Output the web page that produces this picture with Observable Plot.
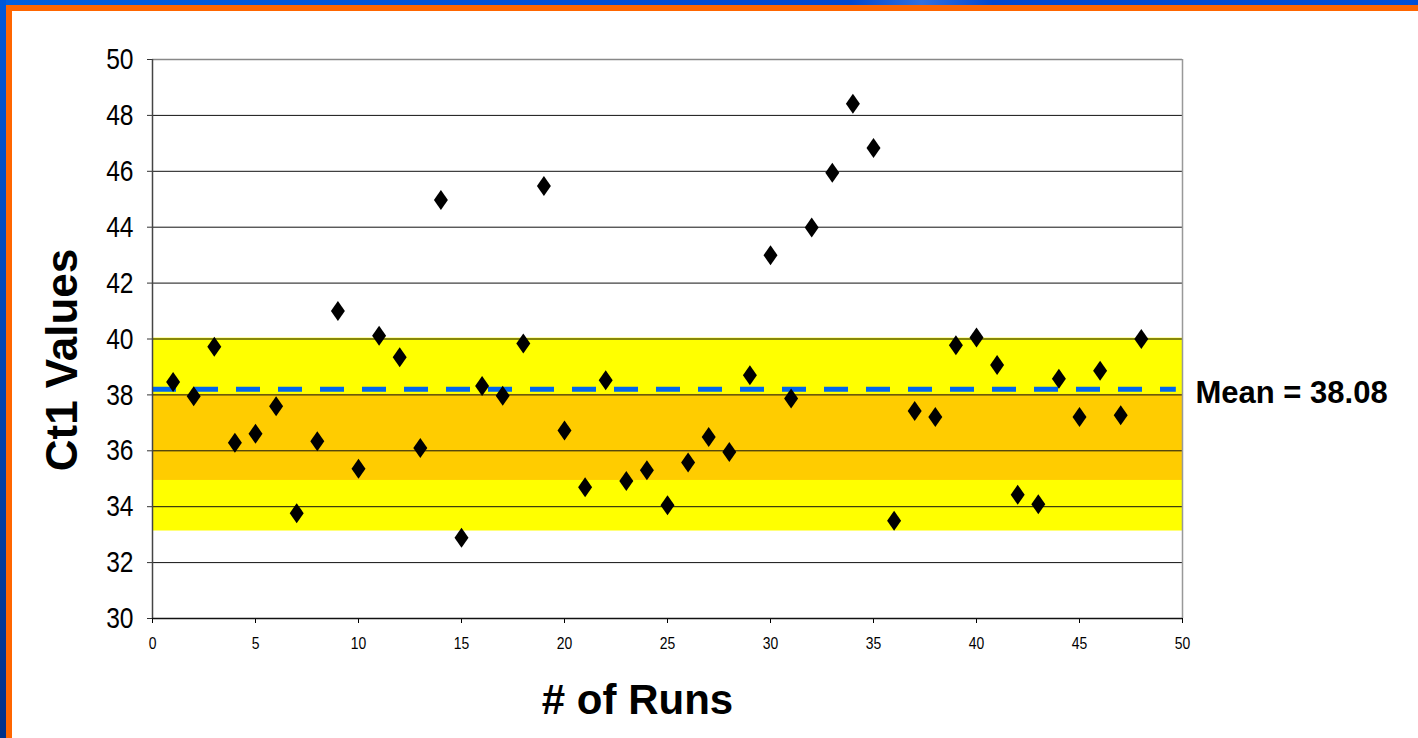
<!DOCTYPE html>
<html>
<head>
<meta charset="utf-8">
<script src="https://cdn.jsdelivr.net/npm/d3@7"></script>
<script src="https://cdn.jsdelivr.net/npm/@observablehq/plot@0.6"></script>
<style>
  html, body { margin: 0; padding: 0; background: #fff; width: 1418px; height: 738px; overflow: hidden; }
  #frame-blue-top { position: absolute; left: 0; top: 0; width: 1418px; height: 5px; background: linear-gradient(90deg, #0060e0, #0050d8 40%, #0048d0 60%, #3070e0 65%, #0048d0 70%, #0050d8); }
  #frame-blue-left { position: absolute; left: 0; top: 0; width: 6px; height: 738px; background: linear-gradient(180deg, #0058d8, #003a9a 80%, #00308a); }
  #frame-orange-top { position: absolute; left: 6px; top: 5px; width: 1412px; height: 6px; background: #ff6600; }
  #frame-orange-left { position: absolute; left: 6px; top: 5px; width: 6px; height: 733px; background: #ff6600; }
  #chart { position: absolute; left: 0; top: 0; }
</style>
</head>
<body>
<div id="chart"></div>
<div id="frame-blue-top"></div>
<div id="frame-blue-left"></div>
<div id="frame-orange-top"></div>
<div id="frame-orange-left"></div>
<script>
// ---- data ----
const runs = [1,2,3,4,5,6,7,8,9,10,11,12,13,14,15,16,17,18,19,20,21,22,23,24,25,26,27,28,29,30,31,32,33,34,35,36,37,38,39,40,41,42,43,44,45,46,47,48];
const ct1Values = [38.46,37.95,39.72,36.29,36.61,37.59,33.77,36.34,41.0,35.36,40.12,39.35,36.1,44.97,32.89,38.32,37.97,39.84,45.47,36.73,34.70,38.52,34.92,35.30,34.05,35.58,36.49,35.96,38.70,43.0,37.87,43.99,45.95,48.42,46.83,33.50,37.42,37.21,39.78,40.05,39.07,34.43,34.09,38.58,37.21,38.86,37.27,40.0];
const yTicks = [30,32,34,36,38,40,42,44,46,48,50];
const xTicks = [0,5,10,15,20,25,30,35,40,45,50];
const bandLows = [33.13, 34.94];
const bandHighs = [40.03, 38.02];
const bandNames = ["outer", "inner"];
const meanLineValue = [38.2];
const meanLabelValue = [38.08];
const meanLabelText = ["Mean = 38.08"];
const xTitle = ["# of Runs"];
const yTitle = ["Ct1 Values"];

// ---- tables built from the arrays ----
const points = runs.map((r, i) => ({run: r, ct: ct1Values[i]}));
const bands = bandNames.map((n, i) => ({name: n, lo: bandLows[i], hi: bandHighs[i]}));
const meanLabel = meanLabelText.map((t, i) => ({text: t, y: meanLabelValue[i]}));

const tallDiamond = {
  draw(context) {
    context.moveTo(0, -10);
    context.lineTo(7, 0);
    context.lineTo(0, 10);
    context.lineTo(-7, 0);
    context.closePath();
  }
};

const tickFont = "'Liberation Sans', Arial, Helvetica, sans-serif";
const bold = "Arial, 'Liberation Sans', Helvetica, sans-serif";

const chart = Plot.plot({
  width: 1418,
  height: 738,
  marginLeft: 152,
  marginRight: 236,
  marginTop: 59,
  marginBottom: 120,
  style: {fontFamily: tickFont, background: "transparent", overflow: "visible"},
  x: {domain: [0, 50], ticks: xTicks},
  y: {domain: [30, 50], ticks: yTicks},
  color: {domain: ["outer", "inner"], range: ["#ffff00", "#ffcc00"]},
  marks: [
    Plot.rectY(bands, {x1: 0, x2: 50, y1: "lo", y2: "hi", fill: "name"}),
    Plot.ruleY(yTicks.filter(d => d > 30 && d < 50), {x1: 0, x2: 50, stroke: "#111", strokeWidth: 1}),
    Plot.ruleY(yTicks.filter(d => d === 50), {x1: 0, x2: 50, stroke: "#888", strokeWidth: 1.5}),
    Plot.ruleX(xTicks.filter(d => d === 50), {y1: 30, y2: 50, stroke: "#999", strokeWidth: 1.5}),
    Plot.ruleY(meanLineValue, {x1: 0, x2: 49.7, stroke: "#0066ee", strokeWidth: 5, strokeDasharray: "24,18"}),
    Plot.axisY({ticks: yTicks, tickSize: 5, tickPadding: 14, fontSize: 30, label: null, stroke: "#333", ariaLabel: "y-axis"}),
    Plot.axisX({ticks: xTicks, tickSize: 5, tickPadding: 13, fontSize: 17, label: null, ariaLabel: "x-axis"}),
    Plot.ruleX(xTicks.filter(d => d === 0), {y1: 30, y2: 50, stroke: "#444", strokeWidth: 1.5}),
    Plot.ruleY(yTicks.filter(d => d === 30), {x1: 0, x2: 50, stroke: "#111", strokeWidth: 1.5}),
    Plot.dot(points, {x: "run", y: "ct", symbol: tallDiamond, fill: "black", stroke: "none"}),
    Plot.text(meanLabel, {x: 50, y: "y", text: "text", textAnchor: "start", dx: 13, fontSize: 31, fontWeight: "bold", fontFamily: bold, fill: "black"}),
    Plot.text(xTitle, {frameAnchor: "bottom", text: d => d, textAnchor: "middle", dy: 95, dx: -30, fontSize: 42, fontWeight: "bold", fontFamily: bold, fill: "black"}),
    Plot.text(yTitle, {frameAnchor: "left", text: d => d, textAnchor: "middle", rotate: -90, dx: -90, dy: 21, fontSize: 44, fontWeight: "bold", fontFamily: bold, fill: "black"})
  ]
});
document.getElementById("chart").appendChild(chart);

// condense the tick labels (the reference uses a narrow face)
d3.select(chart).selectAll('g[aria-label="y-axis tick label"] text, g[aria-label="x-axis tick label"] text')
  .each(function() {
    const t = this.getAttribute("transform") || "";
    this.setAttribute("transform", t + " scale(0.82,1)");
  });
</script>
</body>
</html>
